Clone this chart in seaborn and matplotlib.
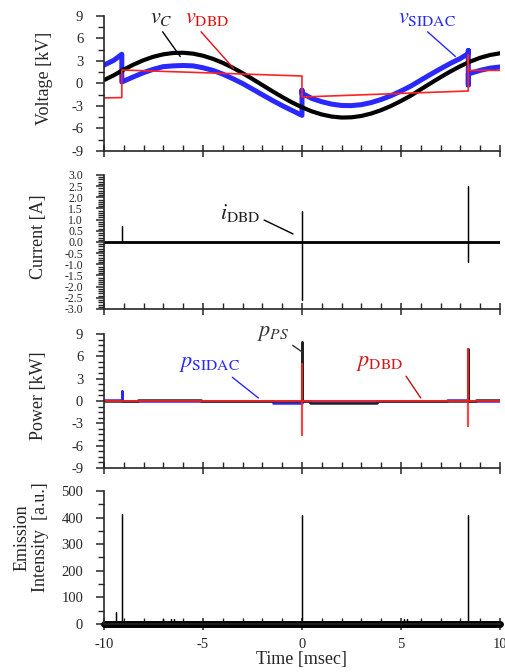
import matplotlib
matplotlib.use("Agg")
import matplotlib.pyplot as plt
from matplotlib.ticker import MultipleLocator, FormatStrFormatter
import seaborn as sns

# ---- data (time in msec) ----
# capacitor voltage v_C [kV]
vc_t = [-10, -9.5, -9, -8.5, -8, -7.5, -7, -6.5, -6, -5.5, -5, -4.5, -4, -3.5, -3, -2.5, -2,
        -1.5, -1, -0.5, 0, 0.5, 1, 1.5, 2, 2.5, 3, 3.5, 4, 4.5, 5, 5.5, 6, 6.5, 7, 7.5, 8,
        8.5, 9, 9.5, 10]
vc_v = [0.45, 1.10, 1.86, 2.53, 3.11, 3.57, 3.89, 4.07, 4.10, 3.98, 3.70, 3.29, 2.75, 2.11,
        1.38, 0.60, -0.21, -1.02, -1.80, -2.53, -3.17, -3.72, -4.13, -4.41, -4.54, -4.51,
        -4.33, -4.00, -3.55, -2.99, -2.33, -1.61, -0.78, 0.04, 0.84, 1.61, 2.31, 2.93, 3.43,
        3.80, 4.03]

# SIDAC voltage [kV]
vsidac_t = [-10, -9.5, -9.1, -9.1, -8.5, -8, -7.5, -7, -6.5, -6, -5.5, -5, -4.5, -4, -3.5,
            -3, -2.5, -2, -1.5, -1, -0.5, 0, 0, 0, 0.5, 1, 1.5, 2, 2.5, 3, 3.5, 4, 4.5, 5,
            5.5, 6, 6.5, 7, 7.5, 8, 8.4, 8.4, 8.4, 8.4, 8.5, 9, 9.5, 10]
vsidac_v = [2.45, 3.1, 3.9, 0.2, 0.9, 1.45, 1.9, 2.25, 2.35, 2.4, 2.35, 2.1, 1.75, 1.25, 0.65,
            0.0, -0.75, -1.5, -2.25, -2.95, -3.6, -4.25, -0.9, -1.3, -2.0, -2.43, -2.75,
            -2.93, -2.95, -2.82, -2.54, -2.13, -1.62, -1.01, -0.34, 0.45, 1.22, 1.97, 2.69,
            3.34, 4.0, 4.4, -0.2, 1.3, 1.35, 1.75, 2.05, 2.2]

# DBD voltage [kV]
vdbd_t = [-10, -9.1, -9.1, 0, 0, 8.4, 8.4, 8.4, 10]
vdbd_v = [-1.92, -1.88, 1.8, 1.0, -1.8, -1.0, 3.8, 1.75, 1.75]

# DBD current [A]
idbd_t = [-10, -9.1, -9.1, -9.1, 0, 0, 0, 0, 8.4, 8.4, 8.4, 8.4, 10]
idbd_v = [0, 0, 0.7, 0, 0, 1.4, -2.6, 0, 0, 2.5, -0.9, 0, 0]
ibase_t = [-10, 10]
ibase_v = [0, 0]

# power [kW]
psidac_t = [-10, -9.1, -9.1, -9.1, -1.45, -1.45, 0, 0, 0, 7.3, 7.3, 8.4, 8.4, 8.4, 10]
psidac_v = [0.1, 0.1, 1.3, 0, 0, -0.25, -0.25, 0.5, 0, 0, 0.1, 0.1, 0.4, 0, 0]
pps_t = [-10, -8.3, -8.3, -5.1, -5.1, 0, 0, 0, 0.4, 0.4, 3.8, 3.8, 8.4, 8.4, 8.4, 8.8, 8.8, 10]
pps_v = [0, 0, 0.1, 0.1, 0, 0, 7.9, 0, 0, -0.25, -0.25, 0, 0, 7.0, 0, 0, 0.1, 0.1]
pdbd_t = [-10, 0, 0, 0, 0, 8.4, 8.4, 8.4, 8.4, 10]
pdbd_v = [0, 0, 5.0, -4.6, 0, 0, 7.0, -3.3, 0, 0]

# emission intensity [a.u.]
em_t = [-10, -9.4, -9.4, -9.4, -9.1, -9.1, -9.1, -7.0, -7.0, -7.0, -6.6, -6.6, -6.6,
        -6.45, -6.45, -6.45, 0, 0, 0, 5.15, 5.15, 5.15, 5.3, 5.3, 5.3, 8.4, 8.4, 8.4, 10]
em_v = [0, 0, 45, 0, 0, 415, 0, 0, 18, 0, 0, 20, 0, 0, 19, 0, 0, 410, 0, 0, 18, 0, 0, 20,
        0, 0, 410, 0, 0]
embase_t = [-10, 10]
embase_v = [0, 0]

BLUE = '#2828ff'
RED = '#ff2222'

sns.set_style('ticks')
plt.rcParams['font.family'] = ['Liberation Serif', 'DejaVu Serif']
plt.rcParams['mathtext.fontset'] = 'stix'
plt.rcParams['axes.unicode_minus'] = False
plt.rcParams['axes.linewidth'] = 1.2

fig = plt.figure(figsize=(5.06, 6.72), dpi=100)
left, width = 0.2055, 0.7826
ax1 = fig.add_axes([left, 0.7753, width, 0.2009])
ax2 = fig.add_axes([left, 0.5402, width, 0.1994])
ax3 = fig.add_axes([left, 0.3036, width, 0.1994])
ax4 = fig.add_axes([left, 0.0714, width, 0.1980])
axes = [ax1, ax2, ax3, ax4]


def line(ax, x, y, color, lw, alpha=1.0):
    sns.lineplot(x=x, y=y, ax=ax, color=color, lw=lw, alpha=alpha,
                 sort=False, estimator=None)
    return ax.lines[-1]


# voltage
line(ax1, vsidac_t, vsidac_v, BLUE, 3.6)
line(ax1, vc_t, vc_v, 'black', 3.0)
line(ax1, vdbd_t, vdbd_v, RED, 1.2)
ax1.set_ylim(-9, 9)
ax1.yaxis.set_major_locator(MultipleLocator(3))
ax1.yaxis.set_minor_locator(MultipleLocator(1.5))
ax1.set_ylabel('Voltage [kV]')

# current
line(ax2, idbd_t, idbd_v, 'black', 0.9)
line(ax2, ibase_t, ibase_v, 'black', 2.0)
ax2.set_ylim(-3, 3)
ax2.yaxis.set_major_locator(MultipleLocator(0.5))
ax2.yaxis.set_minor_locator(MultipleLocator(0.1))
ax2.yaxis.set_major_formatter(FormatStrFormatter('%.1f'))
ax2.set_ylabel('Current [A]')

# power
line(ax3, psidac_t, psidac_v, BLUE, 1.8)
line(ax3, pps_t, pps_v, '#222222', 1.8)
line(ax3, pdbd_t, pdbd_v, RED, 1.5, alpha=0.85)
ax3.set_ylim(-9, 9)
ax3.yaxis.set_major_locator(MultipleLocator(3))
ax3.yaxis.set_minor_locator(MultipleLocator(0.75))
ax3.set_ylabel('Power [kW]')

# emission
line(ax4, em_t, em_v, 'black', 0.9)
base = line(ax4, embase_t, embase_v, 'black', 5.0)
base.set_clip_on(False)
ax4.set_ylim(0, 500)
ax4.yaxis.set_major_locator(MultipleLocator(100))
ax4.yaxis.set_minor_locator(MultipleLocator(50))
ax4.set_ylabel('Emission\nIntensity  [a.u.]', linespacing=1.1)
ax4.set_xlabel('Time [msec]', fontsize=13, labelpad=0)

for ax in axes:
    ax.set_xlim(-10, 10)
    ax.xaxis.set_major_locator(MultipleLocator(5))
    ax.xaxis.set_minor_locator(MultipleLocator(1))
    ax.tick_params(axis='x', which='major', direction='inout', length=8, width=1.1,
                   labelsize=10.5, pad=6)
    ax.tick_params(axis='x', which='minor', direction='in', length=4, width=1.0)
    ax.tick_params(axis='y', which='major', direction='out', length=6, width=1.1,
                   labelsize=10.5, pad=9)
    ax.tick_params(axis='y', which='minor', direction='out', length=4, width=1.0)
    ax.yaxis.label.set_fontsize(13)
    sns.despine(ax=ax)
    if ax is not ax4:
        ax.tick_params(axis='x', labelbottom=False)

# the current axis has crowded labels, as in the original
ax2.tick_params(axis='y', which='major', labelsize=8.5, pad=9)

ax1.yaxis.set_label_coords(-0.13, 0.54)
ax2.yaxis.set_label_coords(-0.145, 0.54)
ax3.yaxis.set_label_coords(-0.145, 0.54)
ax4.yaxis.set_label_coords(-0.14, 0.65)

# labels with leader lines
def tag(ax, text, xy, xytext, color, lcolor, relpos):
    ax.annotate(text, xy=xy, xytext=xytext, ha='center', va='center', fontsize=16,
                color=color, annotation_clip=False,
                arrowprops=dict(arrowstyle='-', color=lcolor, lw=1.0, shrinkA=0,
                                shrinkB=0, relpos=relpos))


tag(ax1, r'$v_C$', (-6.15, 3.6), (-7.1, 8.6), '#222222', 'black', (0.45, 0.0))
tag(ax1, r'$v_{\mathrm{DBD}}$', (-3.45, 2.0), (-4.8, 8.6), '#e01010', '#e01010', (0.3, 0.0))
tag(ax1, r'$v_{\mathrm{SIDAC}}$', (7.75, 3.6), (6.3, 8.6), BLUE, BLUE, (0.45, 0.0))
tag(ax2, r'$i_{\mathrm{DBD}}$', (-0.45, 0.36), (-3.1, 1.3), '#222222', 'black', (1.0, 0.25))
tag(ax3, r'$p_{PS}$', (0, 6.6), (-1.45, 9.1), '#333333', '#333333', (0.9, 0.1))
tag(ax3, r'$p_{\mathrm{SIDAC}}$', (-2.2, 0.4), (-4.65, 4.9), BLUE, BLUE, (0.8, 0.0))
tag(ax3, r'$p_{\mathrm{DBD}}$', (6.0, 0.4), (3.9, 5.0), '#d01818', '#c01010', (1.0, 0.1))

fig.savefig('out.png', dpi=100)
